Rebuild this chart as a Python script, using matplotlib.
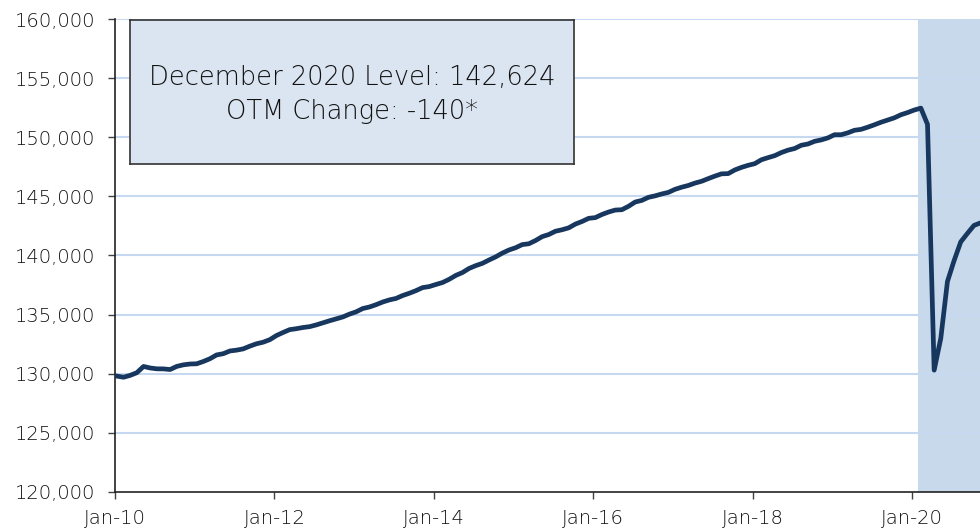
import numpy as np
import matplotlib
matplotlib.use("Agg")
from matplotlib import pyplot as plt

# total nonfarm payrolls, thousands, Jan 2010 - Dec 2020
payrolls = [
    129798, 129705, 129865, 130089, 130618, 130487, 130416, 130410, 130357, 130620, 130754, 130824,  # 2010
    130842, 131036, 131270, 131591, 131696, 131925, 131995, 132103, 132333, 132535, 132668, 132879,  # 2011
    133229, 133488, 133730, 133810, 133911, 133983, 134131, 134307, 134480, 134641, 134804, 135043,  # 2012
    135236, 135516, 135645, 135840, 136066, 136244, 136368, 136613, 136807, 137026, 137284, 137372,  # 2013
    137549, 137714, 137985, 138315, 138558, 138905, 139142, 139336, 139619, 139884, 140200, 140464,  # 2014
    140656, 140922, 140993, 141266, 141596, 141775, 142053, 142177, 142339, 142657, 142877, 143143,  # 2015
    143204, 143468, 143678, 143843, 143872, 144162, 144522, 144661, 144920, 145045, 145205, 145338,  # 2016
    145597, 145776, 145924, 146123, 146278, 146502, 146715, 146907, 146925, 147236, 147452, 147627,  # 2017
    147767, 148097, 148276, 148443, 148705, 148909, 149047, 149323, 149430, 149657, 149775, 149945,  # 2018
    150214, 150215, 150373, 150589, 150668, 150850, 151053, 151270, 151456, 151641, 151903, 152087,  # 2019
    152301, 152463, 151090, 130303, 133002, 137802, 139566, 141149, 141865, 142545, 142764, 142624,  # 2020
]
tick_labels = ["Jan-10", "Jan-12", "Jan-14", "Jan-16", "Jan-18", "Jan-20"]
box_text = "December 2020 Level: 142,624\nOTM Change: -140*"

plt.rcParams['font.family'] = ['DejaVu Sans']
plt.rcParams['font.weight'] = 'light'

x = np.arange(len(payrolls))

fig = plt.figure(figsize=(9.8, 5.28), dpi=100)
ax = fig.add_axes([0.1173, 0.0682, 0.8827, 0.8958])

ax.axvspan(120.6, 140, color='#c9d9ec', zorder=0, lw=0)
for yv in np.arange(125000, 160001, 5000):
    ax.axhline(yv, color='#c6d9f0', lw=1.5, zorder=1)
ax.plot(x, payrolls, color='#17375e', lw=3.4, zorder=3, solid_joinstyle='round')

ax.set_xlim(-0.3, 129.9)
ax.set_ylim(120000, 160000)
ax.set_xticks(np.arange(0, 121, 24) - 0.3)
ax.set_xticklabels(tick_labels)
ax.set_yticks(np.arange(120000, 160001, 5000))
ax.set_yticklabels([f"{v:,.0f}" for v in np.arange(120000, 160001, 5000)])
ax.tick_params(axis='both', direction='out', length=5, width=1, colors='#404040',
               labelsize=14, labelcolor='#111111')
ax.tick_params(axis='y', pad=9)
ax.tick_params(axis='x', pad=7)
for s in ['top', 'right']:
    ax.spines[s].set_visible(False)
for s in ['left', 'bottom']:
    ax.spines[s].set_color('#222222')
    ax.spines[s].set_linewidth(1.2)

# annotation box
bx = fig.add_axes([130 / 980, 1 - 164 / 528, 444 / 980, 144 / 528])
bx.set_xticks([])
bx.set_yticks([])
bx.set_facecolor('#dbe5f1')
for s in bx.spines.values():
    s.set_color('#333333')
    s.set_linewidth(1.2)
bx.text(0.5, 0.485, box_text, ha='center', va='center', fontsize=18.5,
        color='#111111', linespacing=1.45, transform=bx.transAxes)

fig.savefig("out.png", dpi=100)
